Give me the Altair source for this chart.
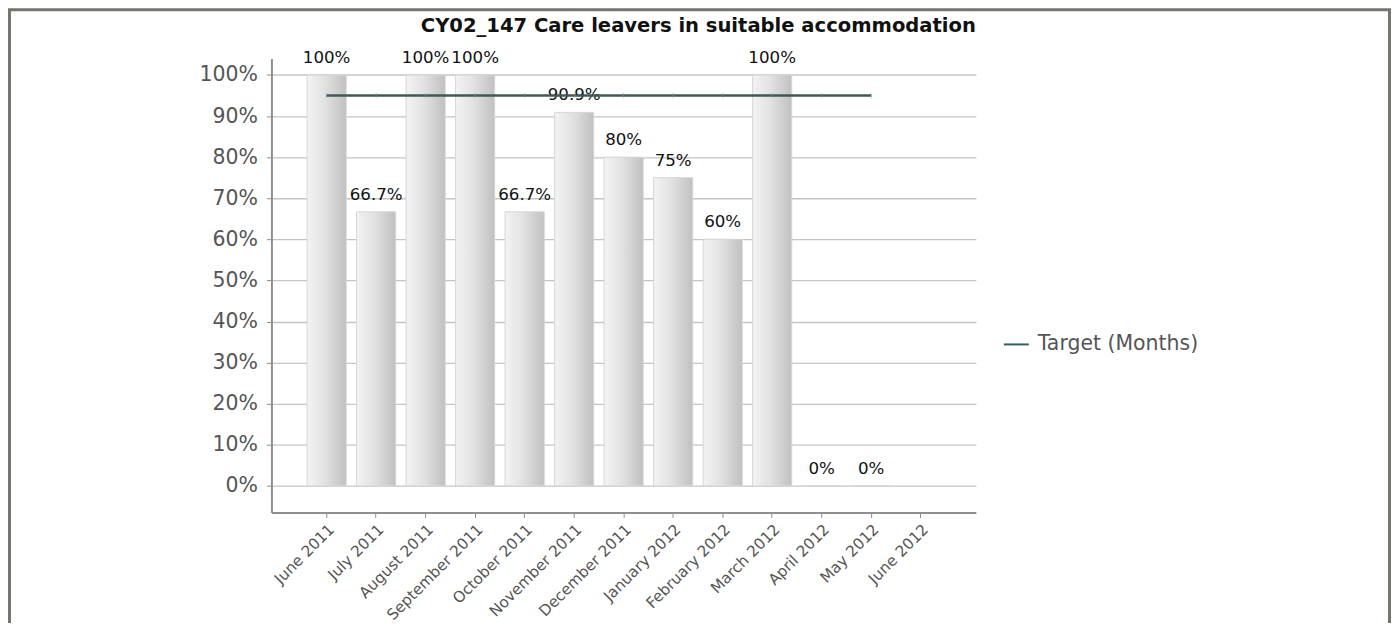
import altair as alt
import pandas as pd

months = ["June 2011", "July 2011", "August 2011", "September 2011", "October 2011",
          "November 2011", "December 2011", "January 2012", "February 2012",
          "March 2012", "April 2012", "May 2012", "June 2012"]
values = [1.0, 0.667, 1.0, 1.0, 0.667, 0.909, 0.8, 0.75, 0.6, 1.0, 0.0, 0.0, None]
target = [0.95, 0.95, 0.95, 0.95, 0.95, 0.95, 0.95, 0.95, 0.95, 0.95, 0.95, 0.95, None]
series_name = "Target (Months)"
title_text = "CY02_147 Care leavers in suitable accommodation"
y_ticks = [0.0, 0.1, 0.2, 0.3, 0.4, 0.5, 0.6, 0.7, 0.8, 0.9, 1.0]

df = pd.DataFrame({"month": months, "value": values, "target": target,
                   "series": [series_name] * len(months)})

FONT = "DejaVu Sans"

x_scale = alt.Scale(domain=months, paddingInner=0.21, paddingOuter=0.72)
x_enc = alt.X("month:N", sort=months, scale=x_scale,
              axis=alt.Axis(title=None, labelAngle=-45, labelFont=FONT, labelFontSize=15.3,
                            labelColor="#555555", tickColor="#8f8f8f", tickSize=5,
                            domainColor="#8f8f8f", domainWidth=2, grid=False,
                            labelPadding=4, labelLimit=0))
y_scale = alt.Scale(domain=[-0.065, 1.04], nice=False)
y_axis = alt.Axis(title=None, format="%", values=y_ticks, labelFont=FONT, labelFontSize=20.5,
                  labelColor="#555555", gridColor="#c4c4c4", gridWidth=1.3,
                  domainColor="#8f8f8f", domainWidth=2, tickColor="#8f8f8f", tickSize=5,
                  labelPadding=9)

base = alt.Chart(df)

bar_gradient = alt.Gradient(
    gradient="linear",
    stops=[alt.GradientStop(color="#f3f3f3", offset=0),
           alt.GradientStop(color="#e2e2e2", offset=0.45),
           alt.GradientStop(color="#c0c0c0", offset=1)],
    x1=0, x2=1, y1=0, y2=0)

bars = base.transform_filter("datum.value != null").mark_bar(
    color=bar_gradient, stroke="#d6d6d6", strokeWidth=1
).encode(
    x=x_enc,
    y=alt.Y("value:Q", scale=y_scale, axis=y_axis),
    y2=alt.Y2(datum=0),
)

labels = base.transform_filter("datum.value != null").mark_text(
    baseline="bottom", dy=-8, font=FONT, fontSize=16.7, color="#111111"
).encode(
    x=alt.X("month:N", sort=months, scale=x_scale),
    y=alt.Y("value:Q"),
    text=alt.Text("value:Q", format=".1~%"),
)

line = base.transform_filter("datum.target != null").mark_line(strokeWidth=2.5).encode(
    x=alt.X("month:N", sort=months, scale=x_scale),
    y=alt.Y("target:Q"),
    color=alt.Color("series:N", scale=alt.Scale(range=["#3b5a5a"]),
                    legend=alt.Legend(title=None, orient="none", legendX=733, legendY=273,
                                      labelFont=FONT, labelFontSize=20.5, labelColor="#555555",
                                      symbolType="stroke", symbolSize=625, labelLimit=0,
                                      symbolStrokeWidth=2, labelOffset=8)),
)

markers = base.transform_filter("datum.target != null").mark_point(
    shape="M0,-1L0,1", size=20, color="#7f9797", strokeWidth=1, filled=False
).encode(
    x=alt.X("month:N", sort=months, scale=x_scale),
    y=alt.Y("target:Q"),
)

frame = alt.Chart(alt.Data(values=[{}])).mark_rect(
    filled=False, stroke="#76766e", strokeWidth=3
).encode(
    x=alt.value(-262.5), x2=alt.value(1120.5), y=alt.value(-49), y2=alt.value(700)
)

chart = alt.layer(bars, labels, line, markers, frame).properties(
    width=706, height=455,
    title=alt.Title(title_text, anchor="end", font=FONT, fontSize=19.6, fontWeight="bold",
                    color="#111111", offset=-28, frame="group"),
    autosize=alt.AutoSizeParams(type="none"),
    padding={"left": 264, "top": 50, "right": 416, "bottom": 110},
).configure_view(stroke=None)

chart.save("out.html", embed_options={"renderer": "svg", "actions": False})
